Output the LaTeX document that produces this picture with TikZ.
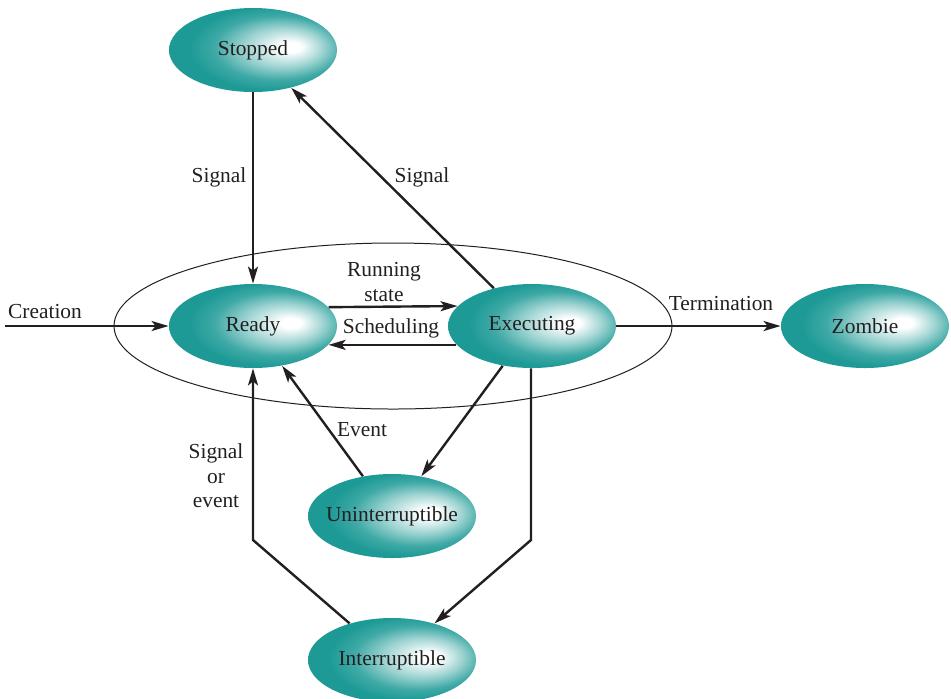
\documentclass[tikz,border=0pt]{standalone}
\usepackage{fontspec}
\setmainfont{Liberation Serif}
\usepackage{xcolor}
\usetikzlibrary{positioning,arrows.meta,shapes.geometric}
\definecolor{tealcol}{HTML}{1D9A96}
\definecolor{inkcol}{HTML}{231F20}
\pgfdeclareradialshading{tealball}{\pgfpoint{12bp}{2bp}}{%
  color(0bp)=(white); color(3bp)=(white);
  color(12bp)=(tealcol!45!white); color(19bp)=(tealcol!85!white);
  color(25bp)=(tealcol); color(50bp)=(tealcol)}

\begin{document}
\begin{tikzpicture}[
  x=0.5pt, y=-0.5pt,
  font=\fontsize{10.7}{12.2}\selectfont, text=inkcol,
  state/.style={
    ellipse, shading=tealball, minimum width=84pt, minimum height=42pt,
    inner xsep=-12pt, inner ysep=0pt,
  },
  arrow/.style={-{Stealth[length=8.5pt, width=5pt, inset=2pt]}, line width=1.2pt, draw=inkcol},
  lbl/.style={align=center, inner sep=1pt},
]
\useasboundingbox (0,0) rectangle (951,698);

% ============================================================
% Enclosing group (running states)
% ============================================================
\node[draw=inkcol, line width=0.5pt, ellipse, minimum width=279pt, minimum height=83pt,
      inner sep=0pt] (running) at (393, 326) {};

% ============================================================
% States
% ============================================================
\node[state] (stopped) at (253, 50) {Stopped};
\node[state] (ready)   at (253, 326) {Ready};
\node[state] (exec)    at (532, 326) {Executing};
\node[state] (zombie)  at (865, 326) {Zombie};
\node[state] (unint)   at (392, 516) {Uninterruptible};
\node[state] (inter)   at (392, 660) {Interruptible};

% free ends and bends
\coordinate (start)  at (5, 326);
\coordinate (bendE)  at (531, 540);
\coordinate (bendI)  at (253, 540);

% ============================================================
% Transitions
% ============================================================
\draw[arrow] (start) -- (ready);
\draw[arrow] (stopped) -- (ready);
\draw[arrow] (exec) -- (stopped);
\draw[arrow] (ready.14.5) -- (exec.165.5);
\draw[arrow] (exec.194.5) -- (ready.-14.5);
\draw[arrow] (exec) -- (zombie);
\draw[arrow] (exec) -- (unint);
\draw[arrow] (unint) -- (ready);
\draw[arrow] (exec.south -| bendE) -- (bendE) -- (inter);
\draw[arrow] (inter) -- (bendI) -- (ready.south);

% ============================================================
% Labels
% ============================================================
\node[lbl] (lcreate) at (45, 312) {Creation};
\node[lbl] (lsigA)   at (219, 177) {Signal};
\node[lbl] (lsigB)   at (422, 177) {Signal};
\node[lbl] (lrun)    at (384, 282) {Running\\state};
\node[lbl] (lsched)  at (391, 328) {Scheduling};
\node[lbl] (lterm)   at (721, 304) {Termination};
\node[lbl] (levent)  at (362, 430) {Event};
\node[lbl] (lsigev)  at (216, 476) {Signal\\or\\event};

\end{tikzpicture}
\end{document}
